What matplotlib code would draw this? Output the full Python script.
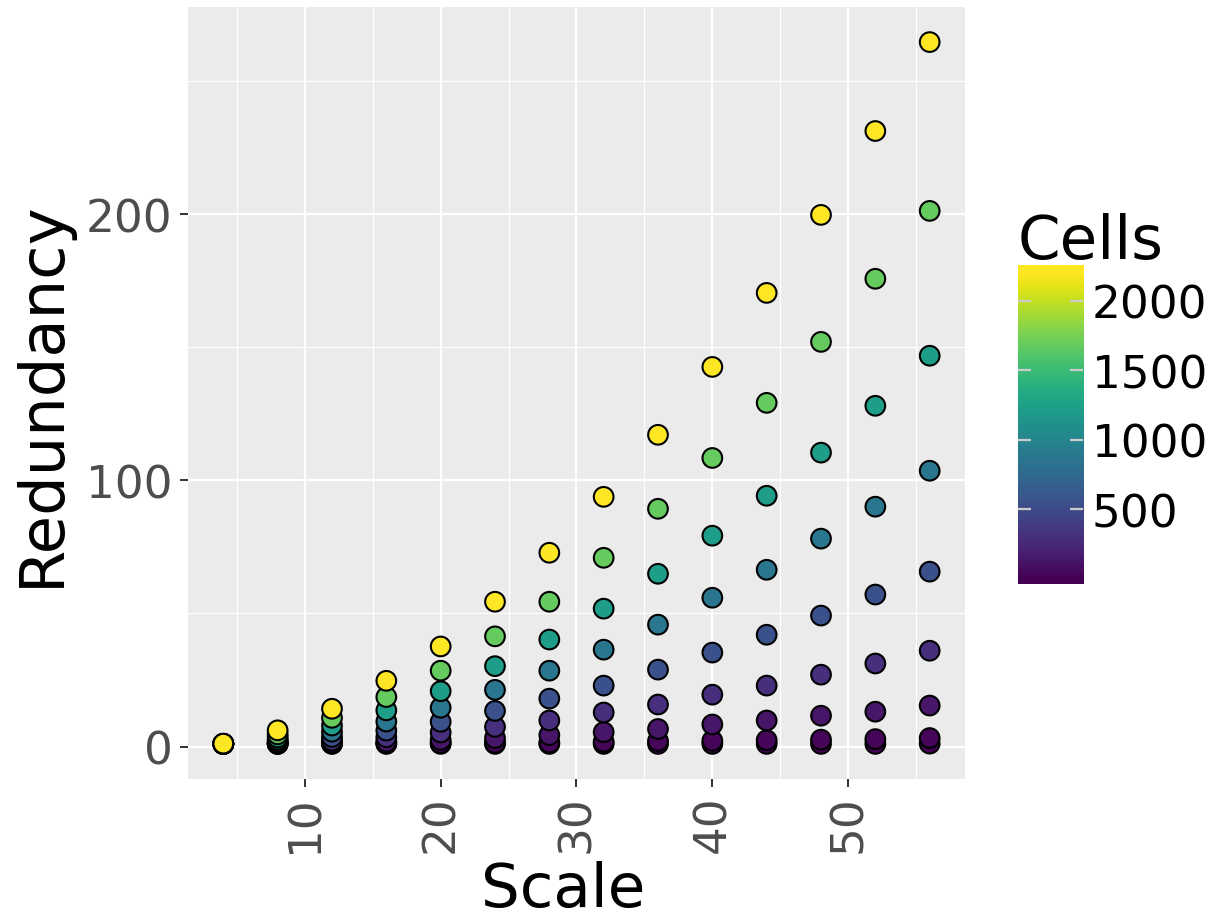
import numpy as np
import matplotlib
matplotlib.use("Agg")
import matplotlib.pyplot as plt
from matplotlib.colors import Normalize

# ---------------------------------------------------------------------------
# data (one row of redundancy values per scale,
# columns follow CELLS, largest cell count first)
# ---------------------------------------------------------------------------
SCALES = [4, 8, 12, 16, 20, 24, 28, 32, 36, 40, 44, 48, 52, 56]
CELLS = [2200, 1680, 1220, 860, 545, 300, 127, 31, 1]
REDUNDANCY = [
    [1.1, 1.05, 1.0, 1.0, 1.0, 1.0, 1.0, 1.0, 1.0],
    [6.1, 4.6, 3.4, 2.5, 1.8, 1.3, 1.1, 1.0, 1.0],
    [14.2, 10.8, 7.9, 5.6, 3.6, 2.2, 1.4, 1.1, 1.0],
    [24.7, 18.6, 13.6, 9.4, 6.0, 3.5, 1.8, 1.2, 1.0],
    [37.6, 28.5, 20.8, 14.6, 9.3, 5.3, 2.5, 1.3, 1.0],
    [54.4, 41.4, 30.2, 21.3, 13.4, 7.4, 3.2, 1.4, 1.0],
    [72.8, 54.4, 40.2, 28.5, 18.0, 9.8, 4.3, 1.5, 1.0],
    [93.8, 70.9, 51.8, 36.4, 22.9, 12.8, 5.4, 1.8, 1.0],
    [117.1, 89.3, 64.9, 45.8, 28.9, 15.8, 6.6, 2.1, 1.0],
    [142.6, 108.4, 79.2, 55.9, 35.3, 19.5, 8.3, 2.2, 1.0],
    [170.4, 129.1, 94.2, 66.4, 42.0, 22.9, 9.8, 2.4, 1.0],
    [199.7, 152.0, 110.4, 78.1, 49.2, 27.0, 11.6, 2.6, 1.0],
    [231.2, 175.7, 128.0, 90.1, 57.1, 31.2, 13.1, 2.8, 1.0],
    [264.6, 201.2, 146.8, 103.6, 65.7, 36.0, 15.4, 3.2, 1.1],
]

# long format, smallest cell count drawn first so the yellow points sit on top
xs, ys, cs = [], [], []
for j in reversed(range(len(CELLS))):
    for i, s in enumerate(SCALES):
        xs.append(s)
        ys.append(REDUNDANCY[i][j])
        cs.append(CELLS[j])
xs, ys, cs = np.array(xs), np.array(ys), np.array(cs)

norm = Normalize(vmin=min(CELLS), vmax=max(CELLS))
cmap = plt.get_cmap("viridis")

fig = plt.figure(figsize=(6.1, 4.6), dpi=200)
ax = fig.add_axes([188 / 1220, 1 - 780 / 920, (965 - 188) / 1220, (780 - 8) / 920])

ax.set_facecolor("#EBEBEB")
for sp in ax.spines.values():
    sp.set_visible(False)

ax.scatter(xs, ys, c=cs, cmap=cmap, norm=norm, s=50, edgecolors="black",
           linewidths=0.75, zorder=3)

# ggplot-like 5% expansion
xr = max(SCALES) - min(SCALES)
ax.set_xlim(min(SCALES) - 0.05 * xr, max(SCALES) + 0.05 * xr)
yr = ys.max() - ys.min()
ax.set_ylim(ys.min() - 0.05 * yr, ys.max() + 0.05 * yr)

ax.set_xticks([10, 20, 30, 40, 50])
ax.set_xticks([5, 15, 25, 35, 45, 55], minor=True)
ax.set_yticks([0, 100, 200])
ax.set_yticks([50, 150, 250], minor=True)
ax.grid(True, which="major", color="white", lw=0.8, zorder=0)
ax.grid(True, which="minor", color="white", lw=0.4, zorder=0)
ax.set_axisbelow(True)
ax.tick_params(which="major", length=3, width=0.7, color="#333333",
               labelsize=16.3, labelcolor="#4D4D4D", pad=2.5)
ax.tick_params(which="minor", length=0)
ax.tick_params(axis="x", labelrotation=90)

ax.set_xlabel("Scale", fontsize=22, labelpad=3)
ax.xaxis.label.set_x((563 - 188) / 777)
ax.set_ylabel("Redundancy", fontsize=22.5, labelpad=5)

# colorbar, drawn by hand so it can run slightly past the data range
lo, hi = -38, 2256
cax = fig.add_axes([1018 / 1220, 1 - 585 / 920, 65 / 1220, 319 / 920])
grad = np.linspace(lo, hi, 400).reshape(-1, 1)
cax.imshow(grad, cmap=cmap, norm=norm, aspect="auto", origin="lower",
           extent=[0, 1, lo, hi])
cax.set_xlim(0, 1)
cax.set_ylim(lo, hi)
for sp in cax.spines.values():
    sp.set_visible(False)
cax.set_xticks([])
cax.set_yticks([500, 1000, 1500, 2000])
cax.yaxis.tick_right()
cax.tick_params(axis="y", direction="in", length=4.7, width=0.8,
                color="#CCCCCC", left=True, right=True, labelleft=False,
                labelright=True, labelsize=16.3, labelcolor="black", pad=3.2)
fig.text(1018 / 1220, 1 - 259 / 920, "Cells", fontsize=22, ha="left",
         va="baseline")

fig.savefig("out.png", dpi=200)
